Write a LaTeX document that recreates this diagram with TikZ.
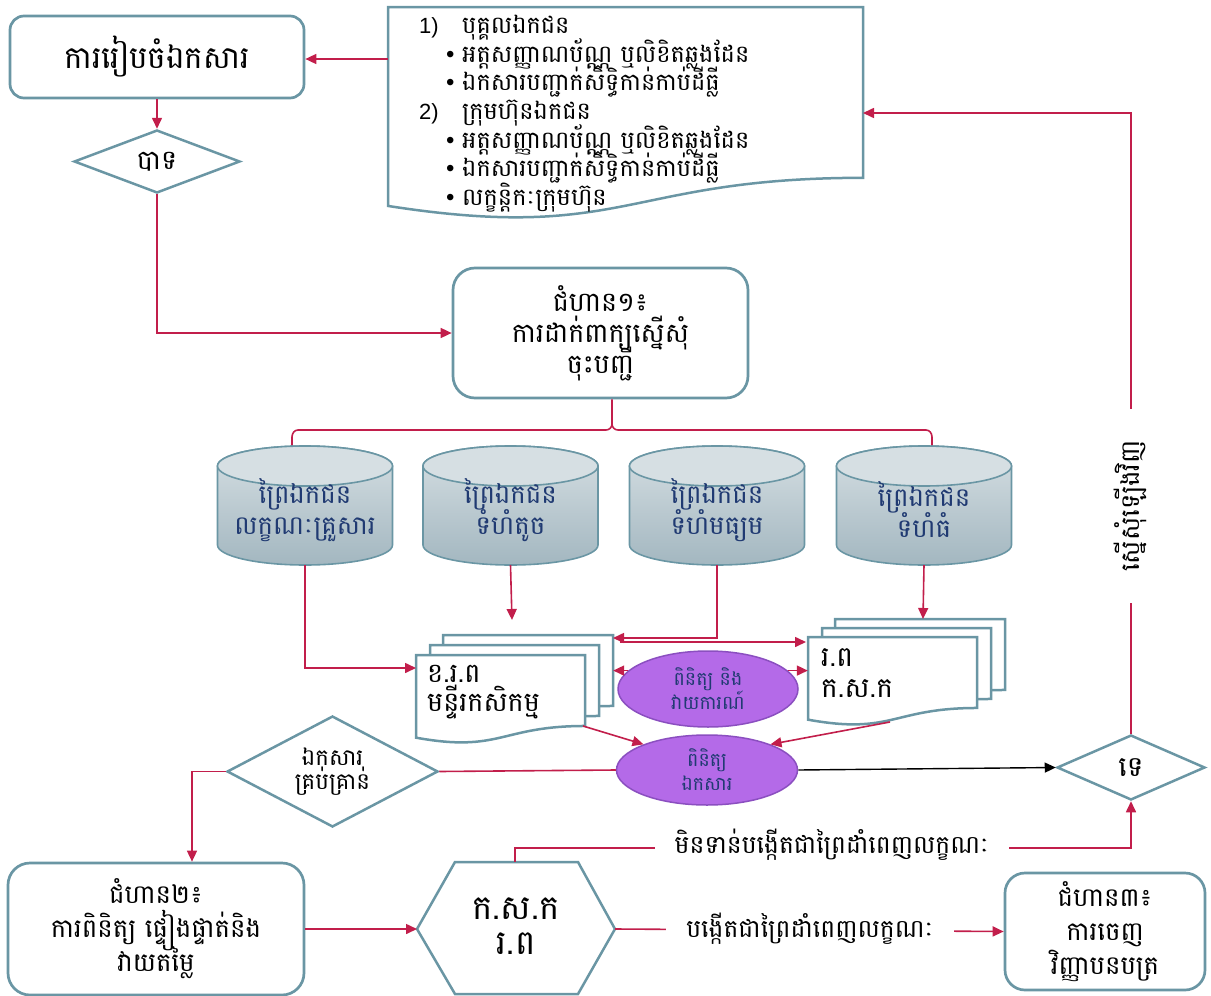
\documentclass[tikz,border=0pt]{standalone}
\usepackage{fontspec}
\setmainfont{Battambang}[Script=Khmer]
\newfontfamily\lsans{Liberation Sans}
\usetikzlibrary{arrows.meta,shapes.geometric,calc}
\definecolor{tl}{HTML}{6A96A4}
\definecolor{rd}{HTML}{C21E4B}
\definecolor{pf}{HTML}{B46AE8}
\definecolor{pb}{HTML}{8B4FC0}
\definecolor{ctop}{HTML}{D6DFE3}
\definecolor{cbot}{HTML}{A3B7C0}
\definecolor{nv}{HTML}{203A72}
\newcommand{\fsz}[2]{\fontsize{#1}{#2}\selectfont\lineskiplimit=-100pt\lineskip=0pt}
% document shape: left, top, width, height
\newcommand{\docshape}[4]{%
  \path[docline] (#1,-#2) -- ({#1+#3},-#2) -- ({#1+#3},{-(#2+0.802*#4)})
    .. controls ({#1+0.5*#3},{-(#2+0.802*#4)}) and ({#1+0.5*#3},{-(#2+1.1075*#4)}) .. (#1,{-(#2+0.934*#4)}) -- cycle;}
% cylinder: name, centre x, text
\newcommand{\cylinder}[3]{%
  \path[shade, top color=ctop, bottom color=cbot, draw=tl, line width=1.6pt]
    ({#2-87.5},-466) -- ({#2-87.5},-545) arc[start angle=180,end angle=360,x radius=87.5,y radius=20]
    -- ({#2+87.5},-466) arc[start angle=0,end angle=180,x radius=87.5,y radius=20] -- cycle;
  \path[fill=ctop, draw=tl, line width=1.6pt] (#2,-466) ellipse[x radius=87.5,y radius=20];
  \node[cyltext] (#1) at (#2,-510) {#3};
  \coordinate (#1-b) at (#2,-565);}
\begin{document}
\lineskiplimit=-100pt
\begin{tikzpicture}[x=1pt,y=1pt,
  rbox/.style={draw=tl, line width=2.7pt, fill=white, rounded corners=16pt, align=center, inner sep=0pt},
  dia/.style={diamond, draw=tl, line width=2.5pt, fill=white, align=center, inner sep=0pt},
  arr/.style={draw=rd, line width=1.6pt, -{Triangle[length=11pt,width=10pt]}},
  barr/.style={draw=black, line width=1.4pt, -{Triangle[length=11pt,width=10pt]}},
  ln/.style={draw=rd, line width=1.6pt},
  ell/.style={ellipse, draw=pb, line width=1.5pt, fill=pf, text=nv, align=center, inner sep=0pt, font=\fsz{19}{24}},
  lbl/.style={fill=white, inner xsep=20pt, inner ysep=5pt, font=\fsz{25}{30}},
  docline/.style={draw=tl, line width=2.5pt, fill=white},
  cyltext/.style={text=nv, align=center, font=\fsz{26}{31}},
]
\useasboundingbox (0,0) rectangle (1211,-996);

% top document with list
\docshape{388}{7}{475}{213}
\coordinate (docL) at (388,-59);
\coordinate (docR) at (863,-113);
\node[anchor=north west, align=left, inner sep=0pt, font=\fsz{24}{28.6}] (list) at (419,-15) {%
\makebox[43pt][l]{\lsans\fontsize{22}{24}\selectfont 1)}បុគ្គលឯកជន\\
\hspace*{27pt}\makebox[16pt][l]{\lsans •}អត្តសញ្ញាណប័ណ្ណ ឬលិខិតឆ្លងដែន\\
\hspace*{27pt}\makebox[16pt][l]{\lsans •}ឯកសារបញ្ជាក់សិទ្ធិកាន់កាប់ដីធ្លី\\
\makebox[43pt][l]{\lsans\fontsize{22}{24}\selectfont 2)}ក្រុមហ៊ុនឯកជន\\
\hspace*{27pt}\makebox[16pt][l]{\lsans •}អត្តសញ្ញាណប័ណ្ណ ឬលិខិតឆ្លងដែន\\
\hspace*{27pt}\makebox[16pt][l]{\lsans •}ឯកសារបញ្ជាក់សិទ្ធិកាន់កាប់ដីធ្លី\\
\hspace*{27pt}\makebox[16pt][l]{\lsans •}លក្ខន្តិកៈក្រុមហ៊ុន};

% boxes
\node[rbox, minimum width=294pt, minimum height=82pt, rounded corners=14pt, font=\fsz{31}{36}] (prep) at (157,-57) {ការរៀបចំឯកសារ};
\node[dia, minimum width=166pt, minimum height=63pt, font=\fsz{27}{30}] (yes) at (157,-161.5) {បាទ};
\node[rbox, minimum width=295pt, minimum height=130pt, rounded corners=22pt, font=\fsz{27}{31}] (step1) at (600.5,-333) {ជំហាន១៖\\ការដាក់ពាក្យស្នើសុំ\\ចុះបញ្ជី};

% brace
\draw[ln] (292,-460) -- (292,-437) to[out=90,in=180] (298,-430) -- (606,-430) to[out=0,in=-90] (612,-424) -- (step1.south -| 612,0);
\draw[ln] (612,-424) to[out=-90,in=180] (618,-430) -- (926,-430) to[out=0,in=90] (932,-437) -- (932,-460);

% cylinders
\cylinder{cA}{305}{ព្រៃឯកជន\\លក្ខណៈគ្រួសារ}
\cylinder{cB}{510.5}{ព្រៃឯកជន\\ទំហំតូច}
\cylinder{cC}{717}{ព្រៃឯកជន\\ទំហំមធ្យម}
\cylinder{cD}{924}{ព្រៃឯកជន\\ទំហំធំ}

% multi documents
\docshape{443}{635}{170}{88.5}
\docshape{430}{645}{169}{88.5}
\docshape{416}{655}{169}{88.5}
\node[anchor=west, align=left, inner sep=0pt, font=\fsz{27}{29}] (khrp) at (427,-692) {ខ.រ.ព\\មន្ទីរកសិកម្ម};
\coordinate (kL) at (416,-668);
\coordinate (kT) at (512,-620);
\coordinate (kR) at (613,-638);
\coordinate (kB) at (583,-726);

\docshape{835}{619}{170}{88.5}
\docshape{822}{628}{169}{88.5}
\docshape{808}{637}{169}{88.5}
\node[anchor=west, align=left, inner sep=0pt, font=\fsz{28}{31}] (rp) at (821,-673) {រ.ព\\ក.ស.ក};
\coordinate (rL) at (806,-642);
\coordinate (rT) at (923,-619);
\coordinate (rB) at (890,-722);

% ellipses
\node[ell, minimum width=180pt, minimum height=76pt] (e1) at (708,-689) {ពិនិត្យ និង\\វាយការណ៍};
\node[ell, minimum width=181pt, minimum height=70pt] (e2) at (707,-770) {ពិនិត្យ\\ឯកសារ};

% diamonds
\node[dia, minimum width=211pt, minimum height=111pt] (enough) at (332.5,-771.5) {};
\node[align=center, inner sep=0pt, font=\fsz{23}{24}] (enoughT) at (enough.center) {ឯកសារ\\គ្រប់គ្រាន់};
\node[dia, minimum width=148pt, minimum height=65pt] (no) at (1131,-767.5) {};
\node[inner sep=0pt, font=\fsz{28}{30}] (noT) at (no.center) {ទេ};

% lower boxes
\node[rbox, minimum width=296pt, minimum height=132pt, rounded corners=22pt, font=\fsz{26}{34}] (step2) at (156,-929) {ជំហាន២៖\\ការពិនិត្យ ផ្ទៀងផ្ទាត់និង\\វាយតម្លៃ};
\node[rbox, minimum width=200pt, minimum height=117pt, rounded corners=20pt, font=\fsz{26}{34}] (step3) at (1105,-931.5) {ជំហាន៣៖\\ការចេញ\\វិញ្ញាបនបត្រ};

% hexagon
\coordinate (hexW) at (417,-929);
\coordinate (hexE) at (615,-929);
\coordinate (hexN) at (515,-862);
\draw[docline] (hexW) -- (455,-862) -- (578,-862) -- (hexE) -- (578,-994) -- (455,-994) -- cycle;
\node[align=center, inner sep=0pt, font=\fsz{34}{35}] (hex) at (516,-926) {ក.ស.ក\\រ.ព};

% connectors
\draw[arr] (docL) -- (docL -| prep.east);
\draw[arr] (prep.south) -- (yes.north);
\draw[arr] (yes.south) |- (step1.west);
\draw[arr] (cA-b) |- (kL);
\draw[arr] (cB-b) -- (kT);
\draw[arr] (cC-b) |- (kR);
\draw[arr] (cD-b) -- (rT);
\draw[arr] (620,-642) -- (rL);
\draw[arr] (e1.167) -- ++(-15,0);
\draw[arr] (e1.13) -- ++(20,0);
\draw[arr] (kB) -- (e2.158);
\draw[arr] (rB) -- (e2.22);
\draw[ln] (e2.west) -- (enough.east);
\draw[barr] (e2.east) -- (no.west);
\draw[arr] (enough.west) -| ($(step2.north)+(36,0)$);
\draw[arr] (step2.east) -- (hexW);
\draw[arr] (hexN) |- ($(no.south)+(0,-47)$) -- (no.south);
\draw[arr] (hexE) -- (step3.west);
\draw[arr] (no.north) |- (docR);

% labels on connectors
\node[lbl] (lblA) at (832,-845) {មិនទាន់បង្កើតជាព្រៃដាំពេញលក្ខណៈ};
\node[lbl] (lblB) at (810,-929) {បង្កើតជាព្រៃដាំពេញលក្ខណៈ};
\node[lbl, rotate=90, inner xsep=31pt, font=\fsz{26}{30}] (lblC) at (1130,-506) {ស្នើសុំឡើងវិញ};
\end{tikzpicture}
\end{document}
